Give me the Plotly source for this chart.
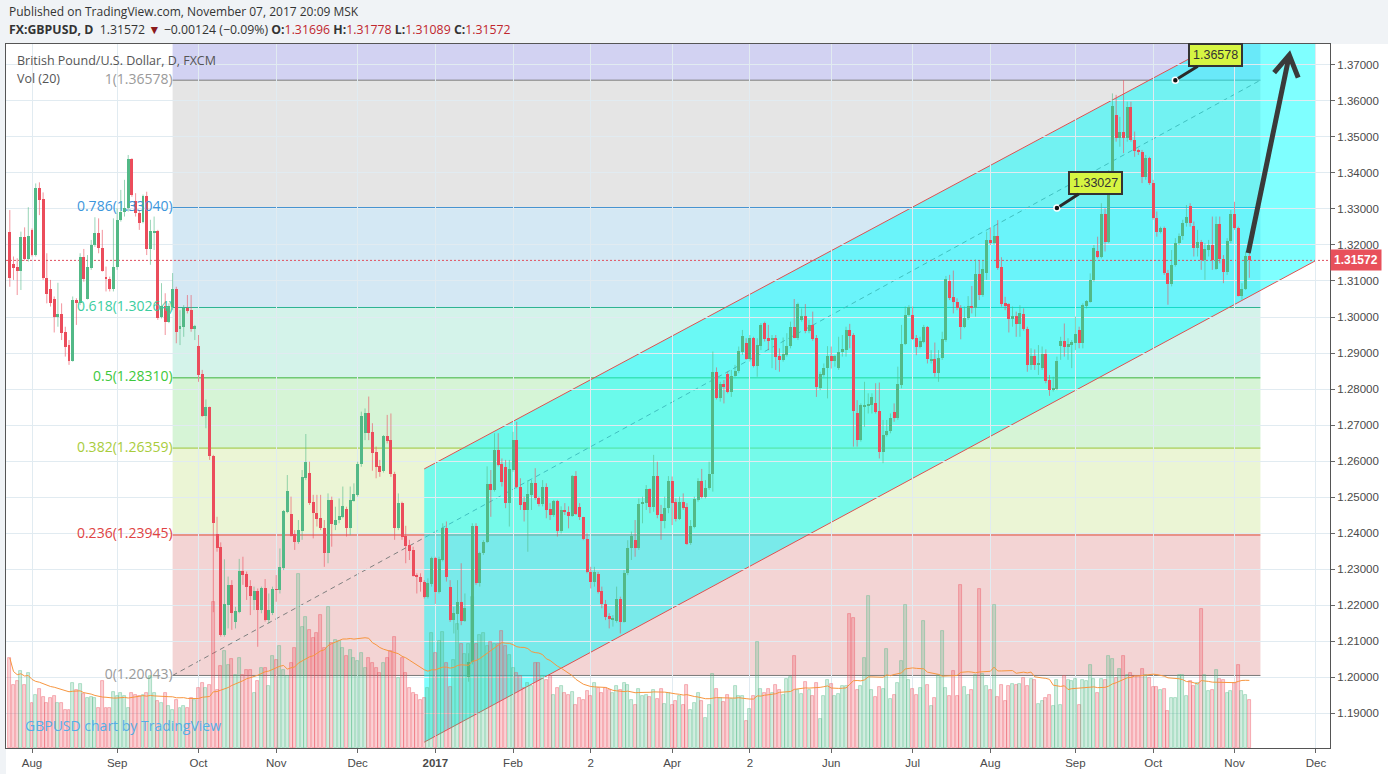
import plotly.graph_objects as go
import pandas as pd
import numpy as np

# ---- FXCM GBPUSD daily candles, Jul 22 2016 .. Nov 7 2017 (bar index 0..335) ----
OPEN = [
    1.3236, 1.3147, 1.3139, 1.3129, 1.3221, 1.3161, 1.3242, 1.3173, 1.3357, 1.3328,
    1.3108, 1.3078, 1.3049, 1.3001, 1.3008, 1.2958, 1.2922, 1.2879, 1.3047, 1.3040,
    1.3168, 1.3051, 1.3136, 1.3200, 1.3233, 1.3191, 1.3112, 1.3105, 1.3079, 1.3138,
    1.3270, 1.3293, 1.3302, 1.3439, 1.3321, 1.3290, 1.3265, 1.3336, 1.3190, 1.3233,
    1.3240, 1.3001, 1.3031, 1.2987, 1.3029, 1.3078, 1.2966, 1.2973, 1.3026, 1.3019,
    1.2968, 1.2920, 1.2842, 1.2726, 1.2749, 1.2615, 1.2396, 1.2362, 1.2117, 1.2200,
    1.2256, 1.2154, 1.2181, 1.2294, 1.2286, 1.2253, 1.2214, 1.2239, 1.2186, 1.2246,
    1.2158, 1.2177, 1.2244, 1.2242, 1.2302, 1.2459, 1.2453, 1.2397, 1.2376, 1.2406,
    1.2554, 1.2568, 1.2485, 1.2455, 1.2443, 1.2415, 1.2345, 1.2492, 1.2422, 1.2436,
    1.2445, 1.2467, 1.2415, 1.2490, 1.2506, 1.2592, 1.2679, 1.2734, 1.2680, 1.2626,
    1.2586, 1.2572, 1.2669, 1.2658, 1.2563, 1.2415, 1.2482, 1.2392, 1.2367, 1.2353,
    1.2283, 1.2279, 1.2265, 1.2223, 1.2258, 1.2330, 1.2237, 1.2325, 1.2415, 1.2249,
    1.2158, 1.2175, 1.2207, 1.2156, 1.2001, 1.2043, 1.2419, 1.2260, 1.2344, 1.2374,
    1.2536, 1.2519, 1.2630, 1.2592, 1.2583, 1.2484, 1.2575, 1.2658, 1.2527, 1.2487,
    1.2464, 1.2505, 1.2540, 1.2496, 1.2481, 1.2527, 1.2467, 1.2450, 1.2489, 1.2406,
    1.2464, 1.2457, 1.2448, 1.2558, 1.2472, 1.2444, 1.2382, 1.2293, 1.2265, 1.2286,
    1.2239, 1.2203, 1.2169, 1.2161, 1.2155, 1.2218, 1.2153, 1.2288, 1.2357, 1.2381,
    1.2357, 1.2481, 1.2484, 1.2521, 1.2473, 1.2558, 1.2453, 1.2434, 1.2469, 1.2545,
    1.2487, 1.2439, 1.2487, 1.2473, 1.2371, 1.2418, 1.2492, 1.2545, 1.2501, 1.2524,
    1.2564, 1.2848, 1.2776, 1.2814, 1.2842, 1.2792, 1.2836, 1.2850, 1.2904, 1.2929,
    1.2884, 1.2941, 1.2864, 1.2920, 1.2983, 1.2941, 1.2938, 1.2941, 1.2892, 1.2881,
    1.2895, 1.2919, 1.2971, 1.2943, 1.2992, 1.3003, 1.2961, 1.2978, 1.2941, 1.2802,
    1.2839, 1.2858, 1.2892, 1.2879, 1.2857, 1.2902, 1.2908, 1.2964, 1.2950, 1.2732,
    1.2658, 1.2751, 1.2753, 1.2756, 1.2762, 1.2740, 1.2626, 1.2672, 1.2684, 1.2737,
    1.2720, 1.2811, 1.2925, 1.3006, 1.3006, 1.2943, 1.2918, 1.2931, 1.2973, 1.2879,
    1.2883, 1.2845, 1.2885, 1.2936, 1.3101, 1.3056, 1.3043, 1.3024, 1.2973, 1.2996,
    1.3031, 1.3026, 1.3119, 1.3061, 1.3123, 1.3214, 1.3205, 1.3225, 1.3138, 1.3038,
    1.3036, 1.2994, 1.3004, 1.2980, 1.3008, 1.2967, 1.2867, 1.2892, 1.2867, 1.2858,
    1.2897, 1.2825, 1.2797, 1.2800, 1.2919, 1.2933, 1.2918, 1.2922, 1.2929, 1.2964,
    1.2929, 1.3031, 1.3043, 1.3103, 1.3184, 1.3166, 1.3286, 1.3209, 1.3399, 1.3561,
    1.3496, 1.3513, 1.3496, 1.3584, 1.3492, 1.3464, 1.3459, 1.3388, 1.3442, 1.3372,
    1.3274, 1.3237, 1.3246, 1.3122, 1.3091, 1.3145, 1.3205, 1.3226, 1.3260, 1.3308,
    1.3253, 1.3191, 1.3209, 1.3159, 1.3186, 1.3200, 1.3134, 1.3258, 1.3161, 1.3126,
    1.3212, 1.3286, 1.3246, 1.3059, 1.3078, 1.31696,
]
HIGH = [
    1.3297, 1.3168, 1.3163, 1.3237, 1.3249, 1.3305, 1.3246, 1.3371, 1.3374, 1.3346,
    1.3177, 1.3103, 1.3057, 1.3095, 1.3038, 1.2973, 1.2936, 1.3057, 1.3052, 1.3177,
    1.3189, 1.3172, 1.3214, 1.3277, 1.3274, 1.3242, 1.3140, 1.3112, 1.3274, 1.3302,
    1.3353, 1.3381, 1.3450, 1.3441, 1.3344, 1.3297, 1.3340, 1.3348, 1.3270, 1.3279,
    1.3242, 1.3094, 1.3066, 1.3038, 1.3122, 1.3084, 1.3019, 1.3033, 1.3061, 1.3061,
    1.2978, 1.2950, 1.2853, 1.2771, 1.2751, 1.2617, 1.2445, 1.2374, 1.2327, 1.2279,
    1.2269, 1.2195, 1.2328, 1.2334, 1.2293, 1.2269, 1.2251, 1.2246, 1.2251, 1.2272,
    1.2232, 1.2251, 1.2283, 1.2357, 1.2464, 1.2561, 1.2501, 1.2408, 1.2436, 1.2575,
    1.2675, 1.2598, 1.2506, 1.2506, 1.2506, 1.2436, 1.2510, 1.2501, 1.2473, 1.2496,
    1.2529, 1.2473, 1.2529, 1.2538, 1.2598, 1.2737, 1.2746, 1.2779, 1.2705, 1.2640,
    1.2603, 1.2672, 1.2728, 1.2732, 1.2570, 1.2510, 1.2487, 1.2420, 1.2381, 1.2362,
    1.2288, 1.2288, 1.2269, 1.2274, 1.2334, 1.2334, 1.2334, 1.2427, 1.2432, 1.2269,
    1.2195, 1.2269, 1.2316, 1.2232, 1.2066, 1.2427, 1.2427, 1.2348, 1.2380, 1.2585,
    1.2575, 1.2677, 1.2677, 1.2607, 1.2603, 1.2603, 1.2681, 1.2709, 1.2552, 1.2501,
    1.2547, 1.2547, 1.2580, 1.2501, 1.2547, 1.2538, 1.2483, 1.2492, 1.2492, 1.2474,
    1.2483, 1.2474, 1.2561, 1.2572, 1.2483, 1.2445, 1.2399, 1.2306, 1.2306, 1.2292,
    1.2251, 1.2214, 1.2177, 1.2172, 1.2251, 1.2223, 1.2297, 1.2380, 1.2404, 1.2436,
    1.2496, 1.2501, 1.2533, 1.2524, 1.2617, 1.2598, 1.2478, 1.2501, 1.2558, 1.2557,
    1.2496, 1.2501, 1.2510, 1.2483, 1.2436, 1.2501, 1.2552, 1.2578, 1.2547, 1.2598,
    1.2904, 1.2860, 1.2820, 1.2825, 1.2848, 1.2853, 1.2867, 1.2918, 1.2964, 1.2941,
    1.2950, 1.2945, 1.2941, 1.2983, 1.2987, 1.2978, 1.2950, 1.2950, 1.2913, 1.2943,
    1.2955, 1.2987, 1.3050, 1.3040, 1.3024, 1.3036, 1.2992, 1.3015, 1.2950, 1.2848,
    1.2871, 1.2919, 1.2918, 1.2894, 1.2945, 1.2950, 1.2973, 1.2981, 1.2955, 1.2769,
    1.2760, 1.2820, 1.2788, 1.2788, 1.2816, 1.2818, 1.2714, 1.2714, 1.2732, 1.2760,
    1.2862, 1.2978, 1.3029, 1.3033, 1.3029, 1.2950, 1.2945, 1.2978, 1.2975, 1.2908,
    1.2929, 1.2908, 1.2959, 1.3114, 1.3117, 1.3129, 1.3052, 1.3033, 1.3029, 1.3058,
    1.3086, 1.3160, 1.3158, 1.3158, 1.3237, 1.3249, 1.3253, 1.3269, 1.3166, 1.3056,
    1.3038, 1.3029, 1.3015, 1.3033, 1.3024, 1.2973, 1.2913, 1.2910, 1.2922, 1.2918,
    1.2910, 1.2839, 1.2834, 1.2890, 1.2945, 1.2982, 1.2941, 1.2936, 1.3001, 1.2973,
    1.3038, 1.3047, 1.3121, 1.3200, 1.3223, 1.3316, 1.3302, 1.3408, 1.3621, 1.3617,
    1.3556, 1.3658, 1.3598, 1.3598, 1.3515, 1.3468, 1.3464, 1.3450, 1.3445, 1.3381,
    1.3293, 1.3251, 1.3251, 1.3131, 1.3186, 1.3219, 1.3232, 1.3270, 1.3311, 1.3316,
    1.3265, 1.3242, 1.3214, 1.3205, 1.3214, 1.3279, 1.3279, 1.3279, 1.3172, 1.3219,
    1.3297, 1.3320, 1.3251, 1.3094, 1.3182, 1.31778,
]
LOW = [
    1.3084, 1.3103, 1.3061, 1.3075, 1.3157, 1.3154, 1.3168, 1.3168, 1.3283, 1.3103,
    1.3038, 1.3029, 1.2957, 1.2973, 1.2936, 1.2890, 1.2867, 1.2876, 1.2978, 1.3033,
    1.3098, 1.3049, 1.3131, 1.3195, 1.3177, 1.3126, 1.3071, 1.3071, 1.3071, 1.3131,
    1.3265, 1.3279, 1.3293, 1.3334, 1.3279, 1.3242, 1.3260, 1.3172, 1.3145, 1.3186,
    1.2992, 1.2996, 1.2950, 1.2983, 1.3019, 1.2927, 1.2922, 1.2945, 1.3010, 1.2959,
    1.2936, 1.2820, 1.2723, 1.2691, 1.2603, 1.2180, 1.2348, 1.2112, 1.2112, 1.2135,
    1.2131, 1.2135, 1.2177, 1.2256, 1.2214, 1.2172, 1.2186, 1.2084, 1.2177, 1.2154,
    1.2149, 1.2172, 1.2209, 1.2232, 1.2297, 1.2455, 1.2390, 1.2353, 1.2370, 1.2381,
    1.2547, 1.2478, 1.2385, 1.2418, 1.2408, 1.2306, 1.2316, 1.2362, 1.2408, 1.2427,
    1.2441, 1.2390, 1.2394, 1.2487, 1.2501, 1.2584, 1.2658, 1.2658, 1.2573, 1.2552,
    1.2556, 1.2568, 1.2649, 1.2556, 1.2381, 1.2408, 1.2381, 1.2316, 1.2325, 1.2279,
    1.2232, 1.2237, 1.2218, 1.2218, 1.2251, 1.2203, 1.2232, 1.2321, 1.2265, 1.2153,
    1.2121, 1.2131, 1.2144, 1.2153, 1.1987, 1.2035, 1.2256, 1.2251, 1.2339, 1.2372,
    1.2445, 1.2515, 1.2585, 1.2529, 1.2469, 1.2418, 1.2570, 1.2524, 1.2464, 1.2432,
    1.2348, 1.2464, 1.2492, 1.2474, 1.2474, 1.2441, 1.2436, 1.2445, 1.2390, 1.2399,
    1.2450, 1.2413, 1.2445, 1.2450, 1.2436, 1.2380, 1.2288, 1.2246, 1.2251, 1.2232,
    1.2191, 1.2158, 1.2135, 1.2140, 1.2151, 1.2121, 1.2151, 1.2283, 1.2325, 1.2334,
    1.2353, 1.2427, 1.2464, 1.2455, 1.2459, 1.2441, 1.2381, 1.2413, 1.2455, 1.2422,
    1.2432, 1.2436, 1.2464, 1.2367, 1.2367, 1.2413, 1.2487, 1.2496, 1.2496, 1.2520,
    1.2515, 1.2771, 1.2765, 1.2760, 1.2788, 1.2778, 1.2834, 1.2844, 1.2895, 1.2881,
    1.2876, 1.2860, 1.2834, 1.2908, 1.2932, 1.2908, 1.2858, 1.2853, 1.2848, 1.2876,
    1.2890, 1.2913, 1.2941, 1.2936, 1.2987, 1.2955, 1.2955, 1.2934, 1.2778, 1.2797,
    1.2834, 1.2774, 1.2857, 1.2862, 1.2853, 1.2890, 1.2890, 1.2913, 1.2640, 1.2640,
    1.2654, 1.2695, 1.2732, 1.2732, 1.2732, 1.2607, 1.2594, 1.2668, 1.2677, 1.2709,
    1.2714, 1.2802, 1.2922, 1.3001, 1.2936, 1.2894, 1.2913, 1.2927, 1.2871, 1.2871,
    1.2834, 1.2820, 1.2881, 1.2931, 1.3047, 1.3010, 1.3019, 1.2938, 1.2969, 1.2992,
    1.3010, 1.3001, 1.3047, 1.3056, 1.3103, 1.3200, 1.3200, 1.3131, 1.3029, 1.3019,
    1.2957, 1.2973, 1.2945, 1.2945, 1.2962, 1.2848, 1.2853, 1.2853, 1.2839, 1.2853,
    1.2816, 1.2781, 1.2793, 1.2797, 1.2881, 1.2890, 1.2881, 1.2858, 1.2908, 1.2913,
    1.2913, 1.3024, 1.3040, 1.3098, 1.3163, 1.3163, 1.3182, 1.3205, 1.3394, 1.3487,
    1.3473, 1.3455, 1.3487, 1.3487, 1.3445, 1.3450, 1.3372, 1.3381, 1.3367, 1.3270,
    1.3223, 1.3232, 1.3117, 1.3034, 1.3085, 1.3140, 1.3200, 1.3214, 1.3251, 1.3251,
    1.3168, 1.3168, 1.3131, 1.3103, 1.3168, 1.3131, 1.3131, 1.3149, 1.3094, 1.3117,
    1.3205, 1.3242, 1.3057, 1.3048, 1.3075, 1.31089,
]
CLOSE = [
    1.3109, 1.3137, 1.3129, 1.3221, 1.3161, 1.3225, 1.3173, 1.3357, 1.3325, 1.3107,
    1.3064, 1.3040, 1.3001, 1.3008, 1.2956, 1.2918, 1.2879, 1.3047, 1.3040, 1.3168,
    1.3105, 1.3140, 1.3200, 1.3233, 1.3191, 1.3128, 1.3105, 1.3079, 1.3138, 1.3270,
    1.3293, 1.3302, 1.3439, 1.3340, 1.3290, 1.3262, 1.3336, 1.3190, 1.3240, 1.3240,
    1.2996, 1.3031, 1.2987, 1.3031, 1.3078, 1.2959, 1.2975, 1.3026, 1.3018, 1.2968,
    1.2975, 1.2840, 1.2726, 1.2749, 1.2615, 1.2429, 1.2359, 1.2117, 1.2203, 1.2256,
    1.2179, 1.2184, 1.2294, 1.2283, 1.2251, 1.2225, 1.2239, 1.2186, 1.2246, 1.2158,
    1.2186, 1.2244, 1.2242, 1.2305, 1.2461, 1.2517, 1.2393, 1.2376, 1.2408, 1.2556,
    1.2598, 1.2484, 1.2455, 1.2438, 1.2413, 1.2344, 1.2492, 1.2424, 1.2436, 1.2447,
    1.2476, 1.2415, 1.2492, 1.2508, 1.2592, 1.2725, 1.2734, 1.2679, 1.2623, 1.2582,
    1.2569, 1.2669, 1.2656, 1.2563, 1.2415, 1.2482, 1.2390, 1.2365, 1.2351, 1.2281,
    1.2279, 1.2265, 1.2223, 1.2260, 1.2330, 1.2237, 1.2327, 1.2415, 1.2279, 1.2158,
    1.2177, 1.2207, 1.2156, 1.2193, 1.2043, 1.2419, 1.2260, 1.2344, 1.2374, 1.2536,
    1.2519, 1.2630, 1.2589, 1.2543, 1.2484, 1.2578, 1.2658, 1.2527, 1.2478, 1.2464,
    1.2508, 1.2540, 1.2496, 1.2481, 1.2527, 1.2464, 1.2450, 1.2489, 1.2406, 1.2464,
    1.2457, 1.2448, 1.2558, 1.2453, 1.2444, 1.2382, 1.2292, 1.2265, 1.2293, 1.2237,
    1.2202, 1.2168, 1.2162, 1.2163, 1.2218, 1.2153, 1.2288, 1.2357, 1.2392, 1.2357,
    1.2481, 1.2487, 1.2521, 1.2473, 1.2558, 1.2450, 1.2434, 1.2469, 1.2545, 1.2484,
    1.2439, 1.2487, 1.2470, 1.2370, 1.2420, 1.2494, 1.2545, 1.2501, 1.2526, 1.2564,
    1.2848, 1.2776, 1.2814, 1.2806, 1.2792, 1.2836, 1.2850, 1.2906, 1.2947, 1.2884,
    1.2941, 1.2864, 1.2922, 1.2978, 1.2938, 1.2934, 1.2941, 1.2890, 1.2881, 1.2897,
    1.2919, 1.2971, 1.2943, 1.3036, 1.3003, 1.2961, 1.2978, 1.2938, 1.2806, 1.2842,
    1.2858, 1.2892, 1.2879, 1.2892, 1.2902, 1.2911, 1.2964, 1.2948, 1.2740, 1.2658,
    1.2756, 1.2756, 1.2758, 1.2779, 1.2737, 1.2626, 1.2672, 1.2684, 1.2720, 1.2720,
    1.2813, 1.2925, 1.3006, 1.3029, 1.2939, 1.2918, 1.2933, 1.2973, 1.2883, 1.2883,
    1.2845, 1.2885, 1.2939, 1.3106, 1.3054, 1.3041, 1.3024, 1.2973, 1.2998, 1.3031,
    1.3026, 1.3119, 1.3061, 1.3133, 1.3214, 1.3205, 1.3225, 1.3137, 1.3035, 1.3033,
    1.2994, 1.3004, 1.2980, 1.3010, 1.2966, 1.2867, 1.2892, 1.2867, 1.2871, 1.2897,
    1.2823, 1.2797, 1.2803, 1.2878, 1.2933, 1.2918, 1.2925, 1.2930, 1.2953, 1.2929,
    1.3033, 1.3044, 1.3103, 1.3191, 1.3166, 1.3286, 1.3209, 1.3401, 1.3587, 1.3496,
    1.3513, 1.3496, 1.3584, 1.3492, 1.3462, 1.3459, 1.3388, 1.3442, 1.3372, 1.3274,
    1.3237, 1.3246, 1.3122, 1.3091, 1.3145, 1.3205, 1.3226, 1.3260, 1.3279, 1.3260,
    1.3191, 1.3209, 1.3159, 1.3188, 1.3200, 1.3159, 1.3258, 1.3161, 1.3126, 1.3212,
    1.3286, 1.3246, 1.3059, 1.3078, 1.3170, 1.31572,
]
# tick volume, thousands
VOLUME = [
    90, 63, 67, 77, 63, 75, 45, 53, 59, 51, 45, 50, 52, 45, 45, 38, 38, 65, 58, 64,
    54, 50, 51, 50, 40, 67, 40, 40, 56, 52, 55, 52, 40, 55, 53, 52, 53, 55, 72, 55,
    47, 45, 55, 42, 38, 48, 40, 42, 40, 50, 48,
    60, 65, 60, 63, 146, 58, 82, 97, 83, 89, 73, 90, 73, 78, 78, 55, 67, 80, 80, 62,
    92, 88, 102, 78, 72, 85, 100, 174,
    121, 131, 118, 110, 115, 133, 100, 141, 105, 108, 107, 100, 92, 98, 90, 87, 95, 80,
    90, 85, 80, 75, 85, 90, 97, 111, 70, 90, 75, 60, 55, 53, 48, 50, 60, 115,
    95, 107, 116, 85, 61, 88, 124, 104, 94, 104, 151, 104, 113, 115, 102, 106, 104, 104,
    117, 102, 93, 80, 75, 72, 60, 65, 62, 85, 85, 72, 68, 72, 53, 60, 62, 55, 53, 56,
    43, 50, 48, 57, 52, 65, 60, 55, 60, 58, 55, 62, 58, 65,
    63, 48, 43, 59, 52, 53, 51, 58, 49, 59, 44, 55, 43, 47, 52, 43, 63, 38, 45, 55,
    47, 30, 43, 74, 59, 50, 46, 53, 49, 62, 52, 52, 27, 39, 52, 106, 59, 55, 59, 55,
    63, 58, 53, 69, 71, 92, 58, 54, 66, 58, 52, 65, 29, 52, 68, 64, 52, 54, 62, 62,
    134, 130, 58, 62, 90, 152, 58, 51, 61, 59, 99, 49, 53, 65, 87, 143, 68, 59, 53, 60,
    127, 63, 42, 50, 73, 117, 60, 52, 77, 52, 163, 61, 53, 58, 73, 159, 74, 62, 58, 143,
    51, 63, 47, 62, 64, 63, 64, 70, 62, 69, 68, 44, 47, 50, 53, 42, 68, 43, 72, 68,
    67, 69, 43, 68, 67, 83, 69, 55, 69, 68, 92, 89, 70, 79, 92, 73, 75, 72, 72, 79,
    73, 70, 61, 61, 58, 59, 37, 50, 50, 73, 73, 52, 67, 62, 65, 139, 73, 57, 58, 78,
    69, 68, 55, 57, 65, 83, 57, 53, 48,
]

# x axis: bar index of month starts (Dec 26 2016 and Jan 2 2017 have no bar)
TICK_POS = [6, 29, 51, 72, 94, 115, 136, 157, 179, 200, 222, 244, 265, 288, 309, 331, 353]
TICK_TEXT = ['Aug', 'Sep', 'Oct', 'Nov', 'Dec', '<b>2017</b>', 'Feb', '2', 'Apr', '2',
             'Jun', 'Jul', 'Aug', 'Sep', 'Oct', 'Nov', 'Dec']

# fibonacci retracement drawn from bar 44 to bar 338
FIB_RATIOS = ['1', '0.786', '0.618', '0.5', '0.382', '0.236', '0']
FIB_PRICES = [1.36578, 1.33040, 1.30264, 1.28310, 1.26359, 1.23945, 1.20043]
FIB_BARS = [44, 338]

# parallel channel (bar index, upper price, lower price)
CHANNEL_BARS = [112, 353]
CHANNEL_UPPER = [1.2578, 1.3906]
CHANNEL_LOWER = [1.1819, 1.3157]

# callouts and the hand drawn arrow
NOTE_BARS = [283, 315]
NOTE_PRICES = [1.33027, 1.36578]
ARROW_BARS = [334.7, 345.8, None, 341.7, 345.8, 348.2]
ARROW_PRICES = [1.31778, 1.37278, None, 1.36786, 1.37278, 1.36647]

LAST_PRICE = 1.31572

UP = '#53b987'
DOWN = '#eb4d5c'
TXT = "'Open Sans', sans-serif"
AX = "'Liberation Sans', Arial, sans-serif"

X_RANGE = [-1.03, 356.8]
Y_RANGE = [1.18028, 1.37583]

idx = np.arange(len(CLOSE))
o = np.array(OPEN)
h = np.array(HIGH)
l = np.array(LOW)
c = np.array(CLOSE)
up = c >= o

fig = go.Figure()

# fib level labels sit underneath the candles
fib_label_colors = ['#9a9a9a', '#3c96dc', '#3ccda0', '#3cc83c', '#a8cc3c', '#e04343', '#9a9a9a']
fig.add_trace(go.Scatter(
    x=[FIB_BARS[0]] * len(FIB_PRICES), y=FIB_PRICES, mode='text',
    text=['%s(%.5f)' % (r, p) for r, p in zip(FIB_RATIOS, FIB_PRICES)],
    textposition='middle left',
    textfont=dict(family=TXT, size=14, color=fib_label_colors),
    hoverinfo='skip'))

# volume
vol_fill = np.where(up, 'rgba(83,185,135,0.26)', 'rgba(235,77,92,0.26)')
vol_line = np.where(up, 'rgba(83,185,135,0.5)', 'rgba(235,77,92,0.5)')
fig.add_trace(go.Bar(
    x=idx, y=VOLUME, yaxis='y2', width=0.8,
    marker=dict(color=list(vol_fill), line=dict(color=list(vol_line), width=0.8)),
    hoverinfo='skip'))
vol_ma = pd.Series(VOLUME).rolling(20, min_periods=1).mean()
fig.add_trace(go.Scatter(
    x=idx, y=vol_ma, yaxis='y2', mode='lines',
    line=dict(color='#f7963f', width=1), hoverinfo='skip'))


def wick_trace(mask, color):
    xs, ys = [], []
    for i in idx[mask]:
        xs += [i, i, None]
        ys += [l[i], h[i], None]
    return go.Scatter(x=xs, y=ys, mode='lines', line=dict(color=color, width=1),
                      hoverinfo='skip')


fig.add_trace(wick_trace(up, 'rgba(83,185,135,0.6)'))
fig.add_trace(wick_trace(~up, 'rgba(235,77,92,0.6)'))

# candle bodies
body = np.maximum(np.abs(c - o), 0.00015)
fig.add_trace(go.Bar(
    x=idx, y=body, base=np.minimum(o, c), width=0.8,
    marker=dict(color=[UP if u else DOWN for u in up], line=dict(width=0)),
    hoverinfo='skip'))

# arrow drawing
fig.add_trace(go.Scatter(
    x=ARROW_BARS, y=ARROW_PRICES, mode='lines',
    line=dict(color='#3a3a3a', width=5), hoverinfo='skip'))

# callout anchor dots
fig.add_trace(go.Scatter(
    x=NOTE_BARS, y=NOTE_PRICES, mode='markers',
    marker=dict(size=6, color='#111111', line=dict(color='white', width=1.5)),
    hoverinfo='skip'))

# ---- shapes ----
shapes = [dict(type='rect', xref='paper', yref='paper', x0=0, x1=1.0438, y0=-0.037, y1=1,
               fillcolor='white', line=dict(width=0), layer='below')]

band_colors = ['#e5e5e5', '#d4e8f4', '#d4f3ea', '#d6f4d6', '#ebf5d5', '#f3d4d4']
shapes.append(dict(type='rect', x0=FIB_BARS[0], x1=FIB_BARS[1], y0=FIB_PRICES[0], y1=Y_RANGE[1],
                   fillcolor='#d2d2f2', line=dict(width=0), layer='below'))
for k, col in enumerate(band_colors):
    shapes.append(dict(type='rect', x0=FIB_BARS[0], x1=FIB_BARS[1],
                       y0=FIB_PRICES[k + 1], y1=FIB_PRICES[k],
                       fillcolor=col, line=dict(width=0), layer='below'))

fib_line_colors = ['#7a7a7a', '#3f8fcf', '#2db491', '#3cb43c', '#9cc43a', '#e0403a', '#7a7a7a']
for p, col in zip(FIB_PRICES, fib_line_colors):
    shapes.append(dict(type='line', x0=FIB_BARS[0], x1=FIB_BARS[1], y0=p, y1=p,
                       line=dict(color=col, width=1), layer='below'))

# fib trend line
shapes.append(dict(type='line', x0=FIB_BARS[0], x1=FIB_BARS[1],
                   y0=FIB_PRICES[-1], y1=FIB_PRICES[0],
                   line=dict(color='#808080', width=1, dash='5px,4px'), layer='below'))

# channel
path = 'M %s,%s L %s,%s L %s,%s L %s,%s Z' % (
    CHANNEL_BARS[0], CHANNEL_LOWER[0], CHANNEL_BARS[0], CHANNEL_UPPER[0],
    CHANNEL_BARS[1], CHANNEL_UPPER[1], CHANNEL_BARS[1], CHANNEL_LOWER[1])
shapes.append(dict(type='path', path=path, fillcolor='rgba(0,255,255,0.5)',
                   line=dict(width=0), layer='below'))
for ys in (CHANNEL_UPPER, CHANNEL_LOWER):
    shapes.append(dict(type='line', x0=CHANNEL_BARS[0], x1=CHANNEL_BARS[1], y0=ys[0], y1=ys[1],
                       line=dict(color='#e05050', width=1), layer='below'))

shapes.append(dict(type='line', x0=X_RANGE[0], x1=X_RANGE[1], y0=LAST_PRICE, y1=LAST_PRICE,
                   line=dict(color='#e0505e', width=1, dash='2px,2px'), layer='below'))

# ---- annotations ----
red = '#c0262d'
header2 = ("<b>FX:GBPUSD, D</b>  1.31572 <span style='color:#8b1a1a'>▼</span> "
           "−0.00124 (−0.09%%) <b>O:</b><span style='color:%s'>1.31696</span> "
           "<b>H:</b><span style='color:%s'>1.31778</span> "
           "<b>L:</b><span style='color:%s'>1.31089</span> "
           "<b>C:</b><span style='color:%s'>1.31572</span>") % (red, red, red, red)

annotations = [
    dict(xref='paper', yref='paper', x=0.0008, y=1.0455, xanchor='left', yanchor='middle',
         text='Published on TradingView.com, November 07, 2017 20:09 MSK', showarrow=False,
         font=dict(family=TXT, size=12, color='#333333')),
    dict(xref='paper', yref='paper', x=0.0008, y=1.0213, xanchor='left', yanchor='middle',
         text=header2, showarrow=False, font=dict(family=TXT, size=12.3, color='#333333')),
    dict(xref='paper', yref='paper', x=0.0068, y=0.9759, xanchor='left', yanchor='middle',
         text='British Pound/U.S. Dollar, D, FXCM', showarrow=False,
         font=dict(family=TXT, size=12.5, color='#555555')),
    dict(xref='paper', yref='paper', x=0.0068, y=0.9517, xanchor='left', yanchor='middle',
         text='Vol (20)', showarrow=False, font=dict(family=TXT, size=12.5, color='#555555')),
    dict(xref='paper', yref='paper', x=0.0128, y=0.0313, xanchor='left', yanchor='middle',
         text='GBPUSD chart by TradingView', showarrow=False,
         font=dict(family=TXT, size=14, color='#55aee6')),
    dict(xref='paper', yref='y', x=1, y=LAST_PRICE, xanchor='left', yanchor='middle',
         text='<b>%.5f</b>' % LAST_PRICE, showarrow=False, bgcolor='#e8505b', borderpad=3,
         font=dict(family=AX, size=12, color='white')),
]
for bx, py, ax, ay in zip(NOTE_BARS, NOTE_PRICES, [39, 40], [-25, -25]):
    annotations.append(dict(
        x=bx, y=py, text='%.5f' % py, showarrow=True, ax=ax, ay=ay,
        arrowhead=0, arrowwidth=3, arrowcolor='#2a2a2a', standoff=3,
        bgcolor='#d6f542', bordercolor='#333333', borderwidth=2, borderpad=3,
        font=dict(family=AX, size=12.5, color='#333333')))

fig.update_layout(
    width=1388, height=774,
    margin=dict(l=6, r=58, t=44, b=26),
    paper_bgcolor='#f0f3f6', plot_bgcolor='white',
    showlegend=False, barmode='overlay', bargap=0,
    shapes=shapes, annotations=annotations,
    xaxis=dict(
        range=X_RANGE, tickvals=TICK_POS, ticktext=TICK_TEXT,
        showgrid=True, gridcolor='#e1ebf1', gridwidth=1, zeroline=False,
        ticks='outside', ticklen=4, tickcolor='#666666',
        showline=True, linecolor='#555555', linewidth=1, mirror=True,
        tickfont=dict(family=AX, size=11.5, color='#4a4a4a')),
    yaxis=dict(
        range=Y_RANGE, side='right', tick0=1.19, dtick=0.01, tickformat='.5f',
        showgrid=True, gridcolor='#e1ebf1', gridwidth=1, zeroline=False,
        ticks='outside', ticklen=4, tickcolor='#666666',
        showline=True, linecolor='#555555', linewidth=1, mirror=True,
        tickfont=dict(family=AX, size=11.5, color='#4a4a4a')),
    yaxis2=dict(overlaying='y', range=[0, 704], visible=False),
)

# the page's default body margin would push the figure 8px right and down
fig.write_html("out.html", config={'displayModeBar': False},
               post_script="document.body.style.margin='0px';")
